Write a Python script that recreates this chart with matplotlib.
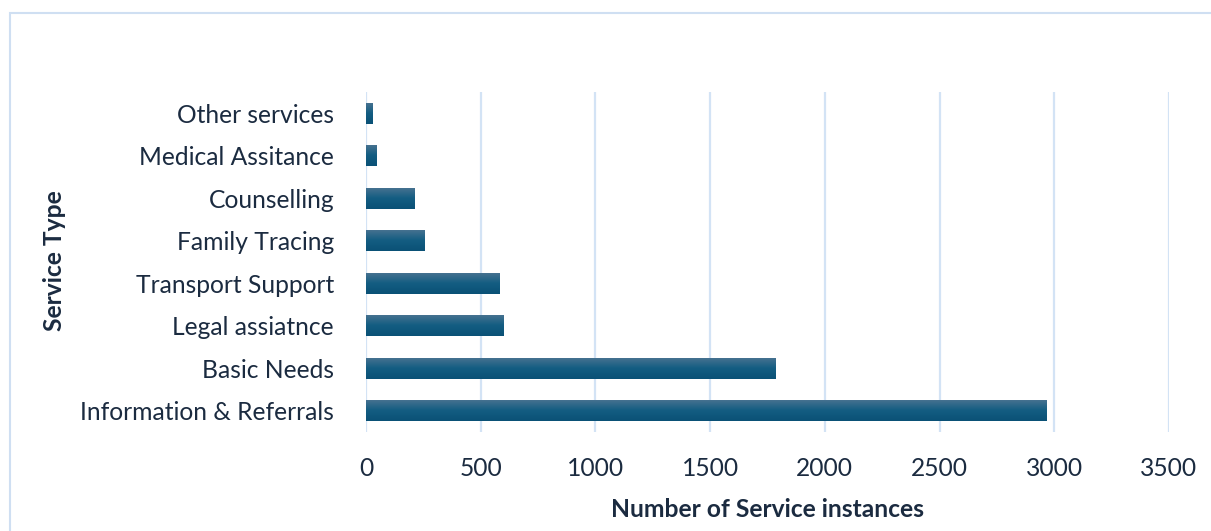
import numpy as np
import matplotlib.pyplot as plt
from matplotlib.patches import Rectangle
from matplotlib.colors import LinearSegmentedColormap

services = ["Information & Referrals", "Basic Needs", "Legal assiatnce",
            "Transport Support", "Family Tracing", "Counselling",
            "Medical Assitance", "Other services"]
counts = [2964, 1783, 601, 584, 253, 210, 45, 27]
xticks = [0, 500, 1000, 1500, 2000, 2500, 3000, 3500]

plt.rcParams['font.family'] = ['Lato', 'DejaVu Sans']
txt = '#1b2b40'
grid = '#d3e3f5'
fs = 17.7

fig = plt.figure(figsize=(12.11, 5.31), dpi=100)
ax = fig.add_axes([366/1211, 1 - 432/531, (1169-366)/1211, (432-92)/531])

y = np.arange(len(services))
bars = ax.barh(y, counts, height=0.5, color='#0b5278', zorder=2)

# vertical gradient on each bar, lighter on top
cmap = LinearSegmentedColormap.from_list('g', ['#0a5176', '#145d82', '#4a7391'])
grad = np.linspace(0, 1, 64).reshape(-1, 1)
for b in bars:
    x0, y0 = b.get_x(), b.get_y()
    w, h = b.get_width(), b.get_height()
    im = ax.imshow(grad, cmap=cmap, aspect='auto', origin='lower',
                   extent=[x0, x0 + w, y0, y0 + h], zorder=3)
    im.set_clip_path(b)

ax.set_xlim(0, 3500)
ax.set_ylim(-0.5, len(services) - 0.5)
ax.set_xticks(xticks)
ax.set_yticks(y)
ax.set_yticklabels(services)
ax.tick_params(length=0, labelsize=fs, colors=txt)
ax.tick_params(axis='y', pad=23)
ax.tick_params(axis='x', pad=18)
ax.grid(axis='x', color=grid, linewidth=1.6, zorder=0)
ax.set_axisbelow(True)
for s in ax.spines.values():
    s.set_visible(False)

ax.set_xlabel('Number of Service instances', fontsize=fs, fontweight='bold',
              color=txt, labelpad=13)
fig.text(55/1211, 1 - 261/531, 'Service Type', rotation=90, fontsize=fs,
         fontweight='bold', color=txt, ha='center', va='center')

# outer chart border
fig.patches.append(Rectangle((10/1211, -0.05), 1.1, 1 - 13/531 + 0.05,
                             transform=fig.transFigure, fill=False,
                             edgecolor='#cfdff2', linewidth=1.5))

fig.savefig('out.png', dpi=100)
